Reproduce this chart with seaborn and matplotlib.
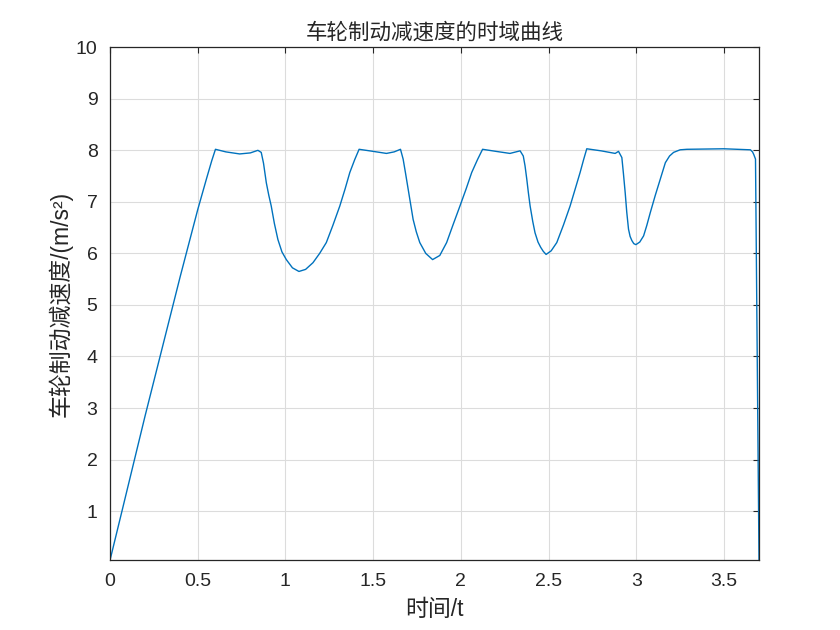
import numpy as np
import pandas as pd
import matplotlib
matplotlib.use("Agg")
import matplotlib.pyplot as plt
import seaborn as sns

# values
t = [0, 0.068, 0.2, 0.3, 0.4, 0.5, 0.55, 0.58, 0.601, 0.66, 0.739, 0.80, 0.843,
     0.862, 0.875, 0.891, 0.905, 0.919, 0.937, 0.957, 0.98, 1.005, 1.04, 1.077,
     1.115, 1.157, 1.195, 1.233, 1.27, 1.310, 1.34, 1.367, 1.395, 1.420,
     1.48, 1.538, 1.576, 1.62, 1.656, 1.671, 1.685, 1.700, 1.714, 1.728, 1.746,
     1.766, 1.80, 1.839, 1.88, 1.919, 1.955, 1.995, 2.03, 2.062, 2.095, 2.124,
     2.20, 2.280, 2.338, 2.356, 2.366, 2.376, 2.385, 2.395, 2.41, 2.423, 2.44,
     2.455, 2.47, 2.486, 2.515, 2.547, 2.585, 2.623, 2.652, 2.680, 2.70, 2.718,
     2.80, 2.880, 2.899, 2.918, 2.927, 2.937, 2.946, 2.956, 2.965, 2.975, 2.986,
     2.998, 3.020, 3.042, 3.060, 3.080, 3.108, 3.137, 3.166, 3.19, 3.213, 3.25,
     3.289, 3.50, 3.651, 3.663, 3.670, 3.680, 3.700]
decel = [0.05, 1.0, 2.85, 4.2, 5.55, 6.85, 7.45, 7.8, 8.02, 7.97, 7.93, 7.95, 8.00,
         7.96, 7.75, 7.37, 7.13, 6.92, 6.58, 6.27, 6.03, 5.88, 5.72, 5.65,
         5.69, 5.82, 6.00, 6.21, 6.54, 6.92, 7.25, 7.57, 7.82, 8.02,
         7.99, 7.96, 7.94, 7.97, 8.02, 7.83, 7.55, 7.24, 6.95, 6.66, 6.42,
         6.21, 6.00, 5.88, 5.96, 6.21, 6.55, 6.92, 7.25, 7.57, 7.82, 8.02,
         7.98, 7.94, 7.99, 7.89, 7.70, 7.44, 7.18, 6.92, 6.62, 6.40, 6.22,
         6.12, 6.04, 5.98, 6.05, 6.21, 6.55, 6.92, 7.25, 7.57, 7.82, 8.03,
         7.99, 7.94, 7.98, 7.86, 7.55, 7.18, 6.80, 6.47, 6.33, 6.25, 6.19,
         6.17, 6.22, 6.34, 6.54, 6.79, 7.12, 7.44, 7.76, 7.89, 7.96, 8.01,
         8.02, 8.03, 8.01, 7.97, 7.92, 7.83, 0.05]

x_ticks = [0, 0.5, 1, 1.5, 2, 2.5, 3, 3.5]
x_tick_labels = ["0", "0.5", "1", "1.5", "2", "2.5", "3", "3.5"]
y_ticks = list(range(1, 11))

df = pd.DataFrame({"t": t, "a": decel})

sns.set_style("white")
plt.rcParams["font.family"] = ["Liberation Sans", "Noto Sans CJK SC"]

fig = plt.figure(figsize=(8.4, 6.3), dpi=100)
ax = fig.add_subplot(111)
fig.subplots_adjust(left=0.131, right=0.904, top=0.925, bottom=0.111)

sns.lineplot(data=df, x="t", y="a", ax=ax, color="#0072BD", linewidth=1.0,
             sort=False, estimator=None)

ax.set_xlim(0, 3.702)
ax.set_ylim(0.05, 10)
ax.set_xticks(x_ticks)
ax.set_xticklabels(x_tick_labels)
ax.set_yticks(y_ticks)

ax.grid(True, color="#dcdcdc", linewidth=0.8)
ax.set_axisbelow(True)
for s in ax.spines.values():
    s.set_color("#262626")
    s.set_linewidth(0.9)
    s.set_visible(True)
ax.tick_params(direction="in", length=4, width=0.8, colors="#262626",
               labelsize=14, top=True, right=True, pad=9)
for lbl in ax.get_xticklabels() + ax.get_yticklabels():
    lbl.set_color("#262626")

ax.set_title("车轮制动减速度的时域曲线", fontsize=15.5, color="#262626", pad=6)
ax.set_xlabel("时间/t", fontsize=16.5, color="#262626", labelpad=6)
ax.set_ylabel("车轮制动减速度/(m/s²)", fontsize=16.5, color="#262626", labelpad=2)

fig.savefig("out.png", dpi=100)
